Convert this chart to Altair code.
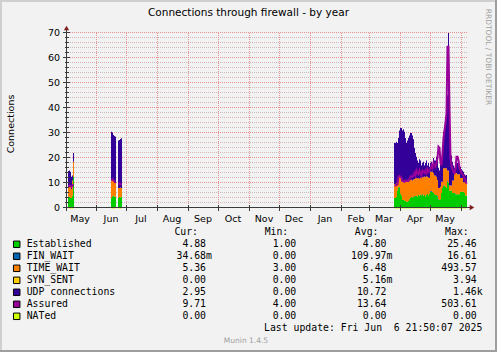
import json
import altair as alt
import pandas as pd

TITLE = "Connections through firewall - by year"
Y_TITLE = "Connections"
WATERMARK = "RRDTOOL / TOBI OETIKER"
FOOTER = "Munin 1.4.5"
LAST_UPDATE = "Last update: Fri Jun \u00a06 21:50:07 2025"

series = ["Established", "FIN_WAIT", "TIME_WAIT", "SYN_SENT", "UDP connections", "Assured", "NATed"]
colors = ["#00CC00", "#0066B3", "#FF8000", "#FFCC00", "#330099", "#990099", "#CCFF00"]
cur_vals = ["4.88", "34.68m", "5.36", "0.00", "2.95", "9.71", "0.00"]
min_vals = ["1.00", "0.00", "3.00", "0.00", "0.00", "4.00", "0.00"]
avg_vals = ["4.80", "109.97m", "6.48", "5.16m", "10.72", "13.64", "0.00"]
max_vals = ["25.46", "16.61", "493.57", "3.94", "1.46k", "503.61", "0.00"]
stat_cols = ["Cur", "Min", "Avg", "Max"]

# x axis: days since 2024-05-02
month_start_days = [30, 60, 91, 122, 152, 183, 213, 244, 275, 303, 334, 364, 395]
month_label_days = [14, 45, 75, 106, 137, 167, 198, 228, 259, 290, 318, 349, 379]
month_labels = ["May", "Jun", "Jul", "Aug", "Sep", "Oct", "Nov", "Dec", "Jan", "Feb", "Mar", "Apr", "May"]
y_major = [0, 10, 20, 30, 40, 50, 60, 70]
y_major_labels = ["0", "10", "20", "30", "40", "50", "60", "70"]
y_minor = [0, 2, 4, 6, 8, 10, 12, 14, 16, 18, 20, 22, 24, 26, 28, 30, 32, 34, 36,
           38, 40, 42, 44, 46, 48, 50, 52, 54, 56, 58, 60, 62, 64, 66, 68, 70]

# data segments (days with data)
seg_days = [
    [2, 3, 4, 5, 6, 7],
    [45, 46, 47, 48, 49],
    [52, 53, 54, 55],
    list(range(328, 401)),
]

established = [
    [4.5, 4.5, 4.0, 4.0, 5.0, 12.5],
    [4.0, 4.5, 5.0, 4.5, 4.5],
    [4.0, 4.5, 4.2, 4.5],
    [4.0, 4.0, 4.5, 7.0, 8.3, 8.0, 5.7, 5.0, 3.2, 3.2,
     3.0, 2.8, 2.5, 2.5, 2.8, 3.5, 4.0, 4.4, 4.2, 4.6,
     4.4, 4.8, 5.0, 4.6, 5.2, 5.0, 5.4, 4.8, 5.5, 5.0,
     5.2, 4.6, 5.3, 5.6, 5.0, 5.8, 6.5, 6.5, 6.5, 6.0,
     5.5, 5.2, 5.2, 4.5, 3.2, 3.2, 3.5, 6.0, 8.0, 9.0,
     9.0, 8.5, 8.0, 10.5, 10.0, 7.0, 7.0, 7.0, 6.0, 6.0,
     6.0, 5.5, 5.5, 5.5, 5.5, 5.5, 6.5, 6.5, 6.5, 6.5,
     6.0, 5.0, 4.9],
]
fin_wait = [
    [0, 0, 0, 0, 0, 0],
    [0, 0.2, 0, 0, 0],
    [0, 0, 0, 0],
    [0, 0, 0, 0, 0, 0.3, 0, 0, 0, 0,
     0, 0, 0, 0, 0, 0, 0, 0, 0, 0,
     0.3, 0, 0, 0, 0, 0, 0, 0.3, 0, 0,
     0, 0, 0, 0, 0, 0, 0.3, 0.3, 0, 0,
     0, 0, 0, 0.3, 0.3, 0, 0, 0, 0, 0,
     0, 0, 0, 0.3, 0, 0, 0, 0, 0, 0,
     0, 0.3, 0, 0, 0, 0, 0, 0, 0, 0,
     0, 0, 0],
]
time_wait = [
    [3.5, 4.0, 4.5, 3.5, 6.0, 6.0],
    [7.0, 6.5, 6.0, 6.5, 5.5],
    [4.0, 3.5, 4.0, 3.5],
    [5.6, 5.6, 5.5, 4.5, 3.7, 4.1, 6.3, 5.8, 7.3, 7.1,
     7.5, 7.8, 7.9, 8.0, 7.8, 7.5, 7.2, 6.9, 6.8, 6.8,
     6.9, 7.1, 7.0, 7.2, 6.8, 6.7, 6.8, 6.9, 7.0, 7.3,
     7.4, 7.8, 7.4, 6.9, 7.2, 6.2, 7.7, 7.7, 8.0, 8.0,
     7.5, 7.8, 7.3, 6.4, 4.5, 4.8, 5.0, 4.5, 2.5, 6.9,
     6.9, 7.4, 7.9, 4.2, 5.0, 2.0, 2.0, 2.0, 5.0, 5.0,
     8.0, 8.2, 8.5, 8.0, 8.0, 8.0, 5.5, 5.5, 5.5, 3.8,
     4.3, 5.3, 5.4],
]
syn_sent = [
    [0, 0, 0, 0, 0, 0],
    [0, 0, 0, 0, 0],
    [0, 0, 0, 0],
    [0.0] * 73,  # reads as 0.00 all along
]
udp = [
    [6.8, 6.5, 6.0, 5.0, 2.0, 3.5],
    [19.5, 19.0, 18.2, 17.8, 18.5],
    [19.0, 19.2, 19.4, 19.9],
    [16.4, 16.4, 16.5, 14.5, 16.0, 18.6, 20.0, 21.2, 20.5, 21.2,
     20.0, 17.4, 15.6, 16.5, 17.4, 18.0, 18.8, 18.7, 18.0, 16.1,
     12.4, 10.1, 8.5, 7.2, 6.0, 7.8, 6.8, 5.0, 5.5, 6.2,
     4.4, 5.6, 6.3, 4.5, 5.8, 4.5, 3.5, 4.0, 3.0, 6.0,
     6.0, 6.0, 8.0, 10.8, 8.0, 7.0, 11.0, 9.5, 14.5, 14.6,
     17.1, 20.1, 24.1, 30.0, 55.0, 33.0, 16.0, 12.0, 7.5, 6.0,
     2.0, 3.0, 4.0, 4.5, 4.0, 4.0, 4.5, 3.5, 3.0, 4.2,
     3.2, 2.7, 2.9],
]
assured = [
    [8.5, 9.0, 8.8, 8.5, 9.0, 9.5],
    [11.0, 11.5, 11.0, 10.5, 10.0],
    [9.5, 9.8, 9.5, 9.8],
    [9.0, 9.0, 9.2, 9.5, 12.5, 12.8, 12.5, 12.0, 10.8, 10.8,
     10.5, 11.0, 10.8, 11.0, 10.8, 11.5, 12.5, 12.8, 12.5, 13.0,
     14.0, 13.0, 15.0, 14.0, 13.5, 15.0, 14.0, 13.0, 15.0, 14.5,
     14.0, 15.0, 14.0, 15.5, 14.5, 15.0, 15.5, 17.0, 16.0, 18.0,
     17.0, 16.5, 18.0, 20.0, 24.5, 24.0, 18.0, 17.0, 22.0, 28.0,
     31.0, 34.0, 38.0, 64.5, 64.5, 40.0, 20.0, 17.0, 15.5, 14.5,
     14.0, 15.5, 20.5, 20.5, 19.0, 16.0, 15.0, 14.0, 13.5, 13.0,
     12.0, 11.0, 9.7],
]
nated = [
    [0, 0, 0, 0, 0, 0],
    [0, 0, 0, 0, 0],
    [0, 0, 0, 0],
    [0.0] * 73,  # reads as 0.00 all along
]

# ---------- build tables ----------
stack_vals = [established, fin_wait, time_wait, syn_sent, udp]
rows = []
line_rows = []
for s, days in enumerate(seg_days):
    for i, d in enumerate(days):
        for k in range(5):
            rows.append({"day": d, "series": series[k], "order": k, "seg": s,
                         "value": stack_vals[k][s][i]})
        line_rows.append({"day": d, "series": "Assured", "seg": s, "value": assured[s][i]})
        line_rows.append({"day": d, "series": "NATed", "seg": s, "value": nated[s][i]})
stack_df = pd.DataFrame(rows)
line_df = pd.DataFrame(line_rows)

BG = "#F2F2F2"
AXIS = "#3A3A3A"
ARROW = "#801F1F"
MAJOR = "#E69090"
MINOR = "#D2B9B9"
SANS = "DejaVu Sans"
MONO = "DejaVu Sans Mono"

xs = alt.Scale(domain=[0, 400], nice=False, zero=False)
ys = alt.Scale(domain=[0, 70], nice=False, zero=True)
cs = alt.Scale(domain=series, range=colors)

minor_grid = alt.Chart(pd.DataFrame({"v": y_minor})).mark_rule(
    color=MINOR, strokeDash=[1, 1], yOffset=-0.5
).encode(y=alt.Y("v:Q", scale=ys, axis=None), x=alt.value(0), x2=alt.value(402))

major_grid = alt.Chart(pd.DataFrame({"v": y_major})).mark_rule(
    color=MAJOR, strokeDash=[1, 1], yOffset=-0.5
).encode(y=alt.Y("v:Q", scale=ys, axis=None), x=alt.value(0), x2=alt.value(402))

vgrid = alt.Chart(pd.DataFrame({"d": month_start_days})).mark_rule(
    color=MAJOR, strokeDash=[1, 1], xOffset=0.5
).encode(x=alt.X("d:Q", scale=xs, axis=None), y=alt.value(0), y2=alt.value(175))

bars = alt.Chart(stack_df).transform_calculate(
    day_end="datum.day + 1"
).transform_stack(
    stack="value", groupby=["day"], as_=["y0", "y1"],
    sort=[alt.SortField("order", order="ascending")]
).mark_rect().encode(
    x=alt.X("day:Q", scale=xs, axis=None),
    x2="day_end:Q",
    y=alt.Y("y0:Q", scale=ys, axis=None),
    y2="y1:Q",
    color=alt.Color("series:N", scale=cs, legend=None),
)

line_base = alt.Chart(line_df).transform_calculate(mid="datum.day + 0.5")
nated_line = line_base.transform_filter(alt.datum.series == "NATed").mark_line(
    strokeWidth=1, color="#CCFF00"
).encode(x=alt.X("mid:Q", scale=xs, axis=None), y=alt.Y("value:Q", scale=ys, axis=None), detail="seg:N")
assured_line = line_base.transform_filter(alt.datum.series == "Assured").mark_line(
    strokeWidth=2, color="#990099"
).encode(x=alt.X("mid:Q", scale=xs, axis=None), y=alt.Y("value:Q", scale=ys, axis=None), detail="seg:N")

ytick_minor = alt.Chart(pd.DataFrame({"v": y_minor})).mark_rule(color=AXIS, yOffset=-0.5).encode(
    y=alt.Y("v:Q", scale=ys, axis=None), x=alt.value(-1), x2=alt.value(3))
ytick_major = alt.Chart(pd.DataFrame({"v": y_major})).mark_rule(color=AXIS, yOffset=-0.5).encode(
    y=alt.Y("v:Q", scale=ys, axis=None), x=alt.value(-3), x2=alt.value(4))
xtick = alt.Chart(pd.DataFrame({"d": month_start_days})).mark_rule(color=AXIS, xOffset=0.5).encode(
    x=alt.X("d:Q", scale=xs, axis=None), y=alt.value(172), y2=alt.value(178))

yaxis_line = alt.Chart(pd.DataFrame({"a": [0]})).mark_rule(color=AXIS, xOffset=0.5).encode(
    x=alt.value(0), y=alt.value(-5), y2=alt.value(178))
xaxis_line = alt.Chart(pd.DataFrame({"a": [0]})).mark_rule(color=AXIS, yOffset=-0.5).encode(
    y=alt.value(175), x=alt.value(-3), x2=alt.value(405))
arrow_up = alt.Chart(pd.DataFrame({"a": [0]})).mark_point(
    shape="triangle-up", filled=True, size=28, color=ARROW, opacity=1
).encode(x=alt.value(0.5), y=alt.value(-5))
arrow_right = alt.Chart(pd.DataFrame({"a": [0]})).mark_point(
    shape="triangle-right", filled=True, size=28, color=ARROW, opacity=1
).encode(x=alt.value(406), y=alt.value(174.5))

# axis tick labels drawn through the scales
xlabels = alt.Chart(pd.DataFrame({"d": month_label_days, "lab": month_labels})).mark_text(
    align="center", baseline="top", font=SANS, fontSize=9.5, color="#000000"
).encode(x=alt.X("d:Q", scale=xs, axis=None), y=alt.value(180.5), text="lab:N")
ylabels = alt.Chart(pd.DataFrame({"v": y_major, "lab": y_major_labels})).mark_text(
    align="right", baseline="middle", font=SANS, fontSize=9.5, color="#000000"
).encode(y=alt.Y("v:Q", scale=ys, axis=None), x=alt.value(-6), text="lab:N")

main = alt.layer(minor_grid, major_grid, vgrid, bars, nated_line, assured_line,
                 ytick_minor, ytick_major, xtick, xaxis_line, yaxis_line, arrow_up, arrow_right,
                 xlabels, ylabels)

# ---------- legend table ----------
table_rows = ["hdr"] + series + ["upd"]
ty = alt.Scale(type="point", domain=table_rows, range=[199.3, 295.3], padding=0)
tx = alt.Scale(type="point", domain=stat_cols, range=[140, 410.7], padding=0)

sw_df = pd.DataFrame({"row": series, "series": series})
val_rows = []
for i, name in enumerate(series):
    for col, vals in zip(stat_cols, [cur_vals, min_vals, avg_vals, max_vals]):
        v = vals[i]
        if v[-1].isalpha():
            num, suf = v[:-1], v[-1]
        else:
            num, suf = v, ""
        val_rows.append({"row": name, "col": col, "num": num, "suf": suf})
val_df = pd.DataFrame(val_rows)
hdr_df = pd.DataFrame({"row": ["hdr"] * 4, "col": stat_cols, "txt": [c + ":" for c in stat_cols]})
upd_df = pd.DataFrame({"row": ["upd"], "txt": [LAST_UPDATE]})

swatches = alt.Chart(sw_df).mark_square(size=42, stroke="#000000", strokeWidth=1, opacity=1, filled=True).encode(
    x=alt.value(-49.3), y=alt.Y("row:N", scale=ty, axis=None),
    fill=alt.Fill("series:N", scale=cs, legend=None))
labels = alt.Chart(sw_df).mark_text(align="left", baseline="middle", font=MONO, fontSize=9.8, color="#000").encode(
    x=alt.value(-39.3), y=alt.Y("row:N", scale=ty, axis=None), text="series:N")
headers = alt.Chart(hdr_df).mark_text(align="right", baseline="middle", font=MONO, fontSize=9.8, color="#000", dx=-8).encode(
    x=alt.X("col:N", scale=tx, axis=None), y=alt.Y("row:N", scale=ty, axis=None), text="txt:N")
nums = alt.Chart(val_df).mark_text(align="right", baseline="middle", font=MONO, fontSize=9.8, color="#000").encode(
    x=alt.X("col:N", scale=tx, axis=None), y=alt.Y("row:N", scale=ty, axis=None), text="num:N")
sufs = alt.Chart(val_df).mark_text(align="left", baseline="middle", font=MONO, fontSize=9.8, color="#000").encode(
    x=alt.X("col:N", scale=tx, axis=None), y=alt.Y("row:N", scale=ty, axis=None), text="suf:N")
update = alt.Chart(upd_df).mark_text(align="right", baseline="middle", font=MONO, fontSize=9.8, color="#000").encode(
    x=alt.value(416.3), y=alt.Y("row:N", scale=ty, axis=None), text="txt:N")

table = alt.layer(swatches, labels, headers, nums, sufs, update)

# ---------- decorations ----------
def text_layer(txt, x, y, **kw):
    return alt.Chart(pd.DataFrame({"t": [txt]})).mark_text(**kw).encode(
        x=alt.value(x), y=alt.value(y), text="t:N")

title = text_layer(TITLE, 182.5, -20, align="center", baseline="middle", font=SANS, fontSize=10.5, color="#000")
ytitle = text_layer(Y_TITLE, -55, 91, align="center", baseline="middle", font=SANS, fontSize=9.5, color="#000", angle=270)
wmark = text_layer(WATERMARK, 422, 24, align="center", baseline="middle", font=SANS, fontSize=7.5, color="#A0A0A0", angle=90)
footer = text_layer(FOOTER, 180, 308, align="center", baseline="middle", font=SANS, fontSize=7.5, color="#A0A0A0")

def frame_rule(color, **enc):
    return alt.Chart(pd.DataFrame({"a": [0]})).mark_rule(color=color, strokeWidth=2).encode(**enc)

frame = alt.layer(
    frame_rule("#CFCFCF", x=alt.value(-65), y=alt.value(-33), y2=alt.value(319)),
    frame_rule("#CFCFCF", y=alt.value(-32), x=alt.value(-66), x2=alt.value(431)),
    frame_rule("#9E9E9E", x=alt.value(430), y=alt.value(-33), y2=alt.value(319)),
    frame_rule("#9E9E9E", y=alt.value(318), x=alt.value(-66), x2=alt.value(431)),
)

chart = alt.layer(main, table, title, ytitle, wmark, footer, frame).resolve_scale(
    x="independent", y="independent", color="independent", fill="independent"
).properties(
    width=400, height=175,
    autosize=alt.AutoSizeParams(type="none"),
    padding={"left": 66, "top": 33, "right": 31, "bottom": 144},
    background=BG,
).configure_view(stroke=None, fill=None)

chart.save("out.html", embed_options={"renderer": "svg", "actions": False})
